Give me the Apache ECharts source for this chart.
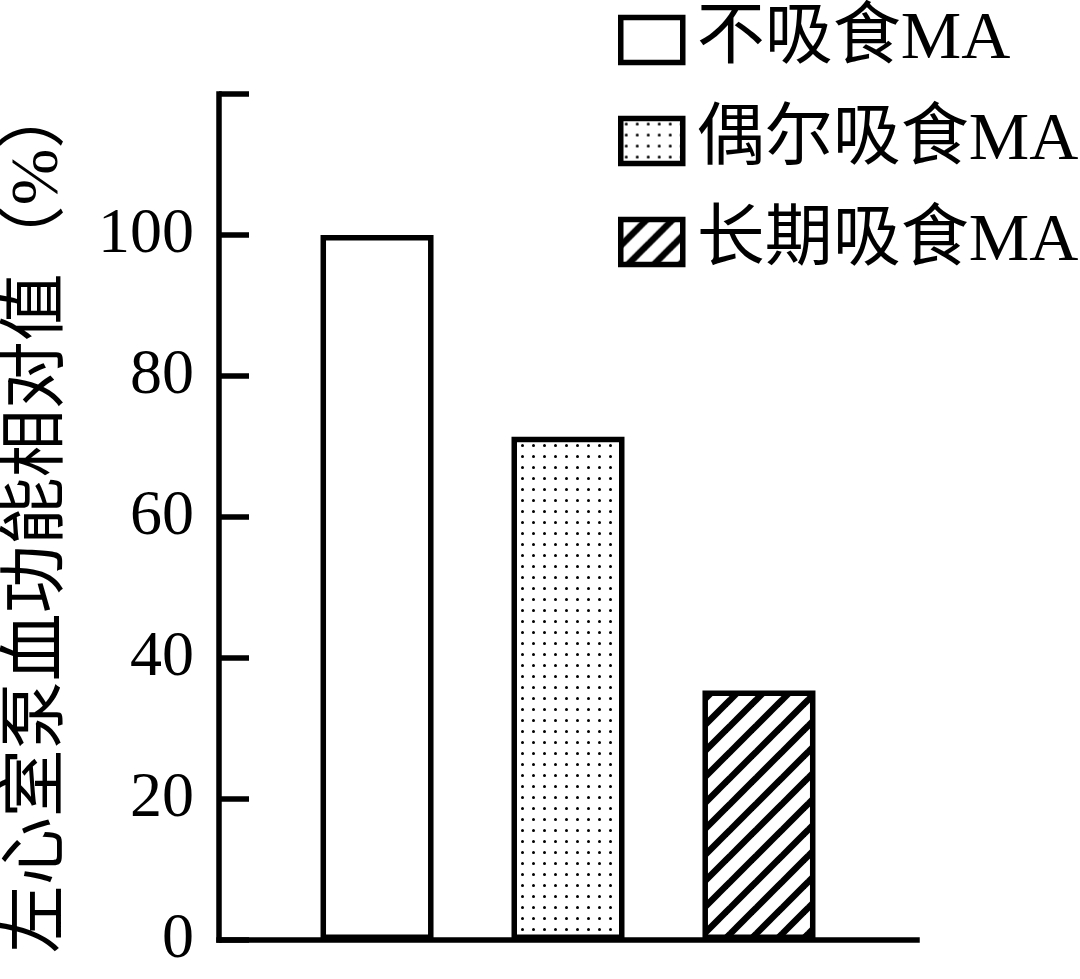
<!DOCTYPE html>
<html>
<head>
<meta charset="utf-8">
<script src="https://cdn.jsdelivr.net/npm/echarts@6/dist/echarts.min.js"></script>
<style>
html,body{margin:0;padding:0;background:#fff;}
#chart{width:1080px;height:979px;}
</style>
</head>
<body>
<div id="chart"></div>
<script>
// ---- data ----
const categories = [''];
const seriesNames = ['不吸食MA', '偶尔吸食MA', '长期吸食MA'];
const neverValues = [100];
const occasionalValues = [71.4];
const longTermValues = [35.4];
const yTicks = [0, 20, 40, 60, 80, 100];
const yAxisName = '左心室泵血功能相对值（%）';

// ---- patterns ----
function dotPattern() {
  const c = document.createElement('canvas');
  c.width = 11; c.height = 11;
  const g = c.getContext('2d');
  g.fillStyle = '#fff'; g.fillRect(0, 0, 11, 11);
  g.fillStyle = '#000';
  g.beginPath(); g.arc(5.5, 5.5, 1.5, 0, Math.PI * 2); g.fill();
  return c;
}
function hatchPattern() {
  const s = 26;
  const c = document.createElement('canvas');
  c.width = s; c.height = s;
  const g = c.getContext('2d');
  g.fillStyle = '#fff'; g.fillRect(0, 0, s, s);
  g.strokeStyle = '#000'; g.lineWidth = 6.5; g.lineCap = 'square';
  [[0, s, s, 0], [-s/2, s/2, s/2, -s/2], [s/2, 1.5*s, 1.5*s, s/2]].forEach(function(l){
    g.beginPath(); g.moveTo(l[0], l[1]); g.lineTo(l[2], l[3]); g.stroke();
  });
  return c;
}

const fonts = "'Liberation Serif', 'Noto Sans CJK SC', serif";
const fills = [
  '#ffffff',
  { image: dotPattern(), repeat: 'repeat' },
  { image: hatchPattern(), repeat: 'repeat' }
];
const values = [neverValues, occasionalValues, longTermValues];

const chart = echarts.init(document.getElementById('chart'), null, { renderer: 'canvas' });
const option = {
  backgroundColor: '#ffffff',
  animation: false,
  grid: { left: 219, right: 163, top: 94, bottom: 39, containLabel: false, outerBoundsMode: 'none' },
  legend: {
    orient: 'vertical',
    left: 618,
    top: 6,
    padding: 0,
    icon: 'rect',
    itemWidth: 62,
    itemHeight: 45,
    itemGap: 33,
    data: seriesNames,
    itemStyle: { borderColor: '#000', borderWidth: 5.5 },
    textStyle: {
      fontSize: 68, fontFamily: fonts, color: '#000',
      padding: [0, 0, 0, 9]
    }
  },
  xAxis: {
    type: 'category',
    data: categories,
    axisLine: { show: true, lineStyle: { color: '#000', width: 5.5, cap: 'square' } },
    axisTick: { show: false },
    axisLabel: { show: false },
    splitLine: { show: false }
  },
  yAxis: {
    type: 'value',
    min: 0,
    max: 120,
    interval: 20,
    name: yAxisName,
    nameLocation: 'middle',
    nameGap: 146,
    nameTextStyle: { fontSize: 68, fontFamily: fonts, color: '#000', padding: [0, 0, 0, 0] },
    axisLine: { show: true, lineStyle: { color: '#000', width: 5.5, cap: 'square' } },
    axisTick: { show: true, inside: true, length: 30, lineStyle: { color: '#000', width: 5.5 } },
    axisLabel: {
      fontSize: 64, fontFamily: fonts, color: '#000', margin: 25,
      formatter: function (v) { return yTicks.indexOf(v) >= 0 ? String(v) : ''; }
    },
    splitLine: { show: false }
  },
  series: seriesNames.map(function (name, i) {
    return {
      name: name,
      type: 'bar',
      data: values[i],
      barWidth: 113,
      barGap: '69%',
      itemStyle: { color: fills[i], borderColor: '#000', borderWidth: 5.5 }
    };
  })
};
chart.setOption(option);
</script>
</body>
</html>
